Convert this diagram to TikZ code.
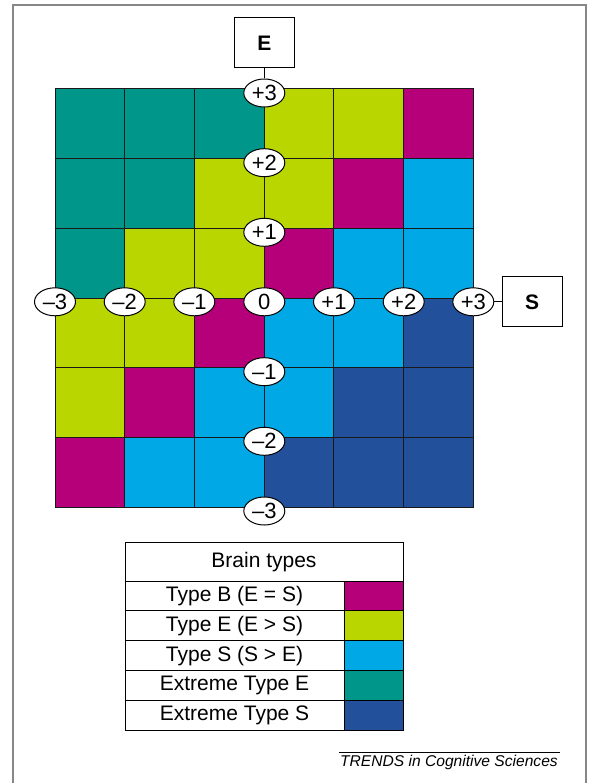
\documentclass[tikz,border=0pt]{standalone}
\usepackage{fontspec}
\setmainfont{Liberation Sans}
\usetikzlibrary{shapes.geometric}
\definecolor{cteal}{RGB}{0,150,138}
\definecolor{clime}{RGB}{186,214,0}
\definecolor{cmag}{RGB}{181,0,122}
\definecolor{csky}{RGB}{0,169,230}
\definecolor{cnavy}{RGB}{35,80,154}
\definecolor{cframe}{RGB}{135,135,135}
\begin{document}
\begin{tikzpicture}[x=1pt,y=-1pt,
  cellbox/.style={draw=black!90,line width=1pt,minimum width=69.67pt,minimum height=69.67pt,inner sep=0pt,outer sep=0pt},
  tick/.style={ellipse,draw=black,fill=white,line width=1pt,minimum width=41pt,minimum height=28pt,inner sep=0pt,font=\fontsize{22}{22}\selectfont},
  axbox/.style={draw=black,fill=white,line width=1pt,minimum width=60pt,minimum height=50pt,inner sep=0pt,font=\fontsize{21}{21}\selectfont\bfseries},
  conn/.style={draw=black,line width=1pt},
  legtext/.style={draw=black,line width=1pt,minimum width=219pt,minimum height=29.8pt,inner sep=0pt,font=\fontsize{21}{21}\selectfont},
  legcol/.style={draw=black,line width=1pt,minimum width=59pt,minimum height=29.8pt,inner sep=0pt}]
\useasboundingbox (0,0) rectangle (588,783);
% frame
\draw[cframe,line width=1.5pt] (13,800) -- (13,5) -- (586,5) -- (586,800);
% grid cells
\foreach \row [count=\r] in {
  {cteal,cteal,cteal,clime,clime,cmag},
  {cteal,cteal,clime,clime,cmag,csky},
  {cteal,clime,clime,cmag,csky,csky},
  {clime,clime,cmag,csky,csky,cnavy},
  {clime,cmag,csky,csky,cnavy,cnavy},
  {cmag,csky,csky,cnavy,cnavy,cnavy}} {
  \foreach \col [count=\c] in \row {
    \node[cellbox,fill=\col] (cell-\r-\c) at ({55+69.67*(\c-0.5)},{89+69.67*(\r-0.5)}) {};
  }
}
% vertical axis ticks
\node[tick] (v3) at (264.3,93) {+3};
\node[tick] (v2) at (264.3,162.7) {+2};
\node[tick] (v1) at (264.3,232.3) {+1};
\node[tick] (vm1) at (264.3,371.7) {\textendash1};
\node[tick] (vm2) at (264.3,441.3) {\textendash2};
\node[tick] (vm3) at (264.3,511) {\textendash3};
% horizontal axis ticks
\node[tick] (hm3) at (55,301.8) {\textendash3};
\node[tick] (hm2) at (124.7,301.8) {\textendash2};
\node[tick] (hm1) at (194.3,301.8) {\textendash1};
\node[tick] (o) at (264.3,301.8) {0};
\node[tick] (h1) at (334,301.8) {+1};
\node[tick] (h2) at (403.7,301.8) {+2};
\node[tick] (h3) at (473.3,301.8) {+3};
% axis boxes
\node[axbox] (E) at (264.3,43) {E};
\node[axbox] (S) at (532,301.8) {S};
\draw[conn] (E) -- (v3);
\draw[conn] (h3) -- (S);
% legend
\node[draw=black,line width=1pt,minimum width=278pt,minimum height=39pt,inner sep=0pt,font=\fontsize{21}{21}\selectfont] (lgh) at (264,562) {Brain types};
\node[legtext] (lt1) at (234.5,596) {Type B (E = S)};
\node[legcol,fill=cmag] (lc1) at (373.5,596) {};
\node[legtext] (lt2) at (234.5,625.8) {Type E (E > S)};
\node[legcol,fill=clime] (lc2) at (373.5,625.8) {};
\node[legtext] (lt3) at (234.5,655.6) {Type S (S > E)};
\node[legcol,fill=csky] (lc3) at (373.5,655.6) {};
\node[legtext] (lt4) at (234.5,685.4) {Extreme Type E};
\node[legcol,fill=cteal] (lc4) at (373.5,685.4) {};
\node[legtext] (lt5) at (234.5,715.2) {Extreme Type S};
\node[legcol,fill=cnavy] (lc5) at (373.5,715.2) {};
% credit
\coordinate (rl) at (339,752);
\coordinate (rr) at (560,752);
\draw[line width=0.8pt] (rl) -- (rr);
\node[font=\fontsize{15.6}{15.6}\selectfont\itshape,inner sep=0pt,anchor=base] (credit) at (449,766) {TRENDS in Cognitive Sciences};
\end{tikzpicture}
\end{document}
